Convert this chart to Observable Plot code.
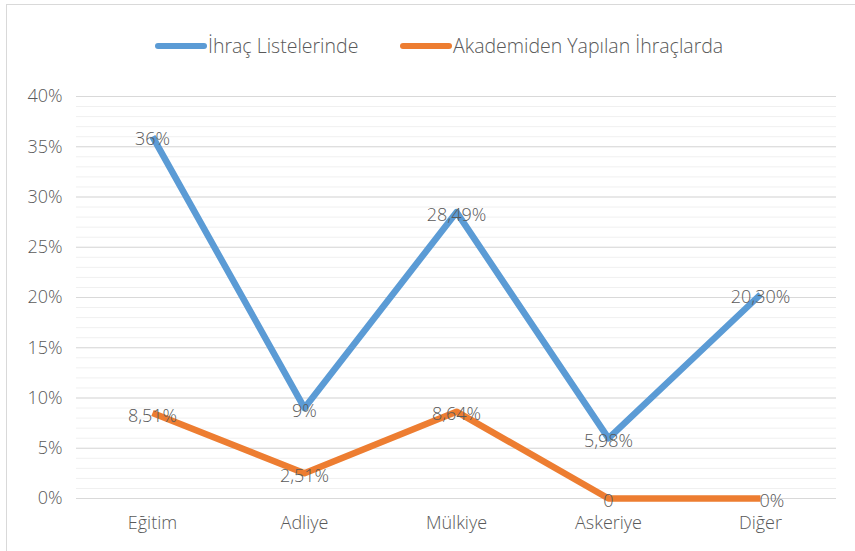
<!DOCTYPE html>
<html>
<head>
<meta charset="utf-8">
<script src="https://cdn.jsdelivr.net/npm/d3@7"></script>
<script src="https://cdn.jsdelivr.net/npm/@observablehq/plot@0.6"></script>
<style>
  body { margin: 0; background: #fff; font-family: "Open Sans", sans-serif; }
  #wrap { position: relative; width: 855px; height: 551px; overflow: hidden; }
  #frame { position: absolute; left: 6px; top: 4px; width: 860px; height: 560px; border-top: 1px solid #d9d9d9; border-left: 1px solid #d9d9d9; }
  #legend { height: 70px; position: relative; color: #595959; font-size: 19.5px; font-weight: 300; }
  .item { position: absolute; top: 32px; display: flex; align-items: center; }
  .sw { width: 52px; height: 6px; border-radius: 3px; margin-right: 1px; }
  #chart { position: relative; }
</style>
</head>
<body>
<div id="wrap">
  <div id="frame"></div>
  <div id="legend"></div>
  <div id="chart"></div>
</div>
<script>
const categories = ["Eğitim", "Adliye", "Mülkiye", "Askeriye", "Diğer"];
const seriesNames = ["İhraç Listelerinde", "Akademiden Yapılan İhraçlarda"];
const listValues = [36, 9, 28.49, 5.98, 20.30];
const listLabels = ["36%", "9%", "28,49%", "5,98%", "20,30%"];
const akademiValues = [8.51, 2.51, 8.64, 0, 0];
const akademiLabels = ["8,51%", "2,51%", "8,64%", "0", "0%"];
const colors = ["#5B9BD5", "#ED7D31"];
const yTicks = [0, 5, 10, 15, 20, 25, 30, 35, 40];
const minorTicks = d3.range(0, 41, 1);

const rows = [];
categories.forEach((c, i) => rows.push({cat: c, v: listValues[i], label: listLabels[i], s: seriesNames[0], last: false}));
categories.forEach((c, i) => rows.push({cat: c, v: akademiValues[i], label: akademiLabels[i], s: seriesNames[1], last: i === categories.length - 1}));

// legend
const legend = document.getElementById("legend");
const lx = [155, 400];
seriesNames.forEach((n, i) => {
  const d = document.createElement("div");
  d.className = "item";
  d.style.left = lx[i] + "px";
  d.innerHTML = `<span class="sw" style="background:${colors[i]}"></span><span>${n}</span>`;
  legend.appendChild(d);
});

const chart = Plot.plot({
  width: 855,
  height: 481,
  marginLeft: 76,
  marginRight: 19,
  marginTop: 26,
  marginBottom: 53,
  style: {fontFamily: "Open Sans, sans-serif", fontSize: "18px", fontWeight: 300, color: "#595959", background: "transparent"},
  x: {type: "point", domain: categories, padding: 0.5, label: null, tickSize: 0, tickPadding: 18},
  y: {domain: [0, 40], ticks: yTicks, tickFormat: d => d + "%", label: null, tickSize: 0, tickPadding: 14},
  color: {domain: seriesNames, range: colors},
  marks: [
    Plot.ruleY(minorTicks, {stroke: "#f0f0f0", strokeWidth: 1}),
    Plot.ruleY(yTicks, {stroke: "#d9d9d9", strokeWidth: 1}),
    Plot.line(rows, {x: "cat", y: "v", z: "s", stroke: "s", strokeWidth: 6.5, strokeLinejoin: "round", strokeLinecap: "butt"}),
    Plot.text(rows, {filter: d => !d.last, x: "cat", y: "v", text: "label", fill: "#595959", fontSize: 18, fontWeight: 300, dy: 3}),
    Plot.text(rows, {filter: d => d.last, x: "cat", y: "v", text: "label", fill: "#595959", fontSize: 18, fontWeight: 300, dy: 3, dx: -1, textAnchor: "start"})
  ]
});
document.getElementById("chart").appendChild(chart);
</script>
</body>
</html>
